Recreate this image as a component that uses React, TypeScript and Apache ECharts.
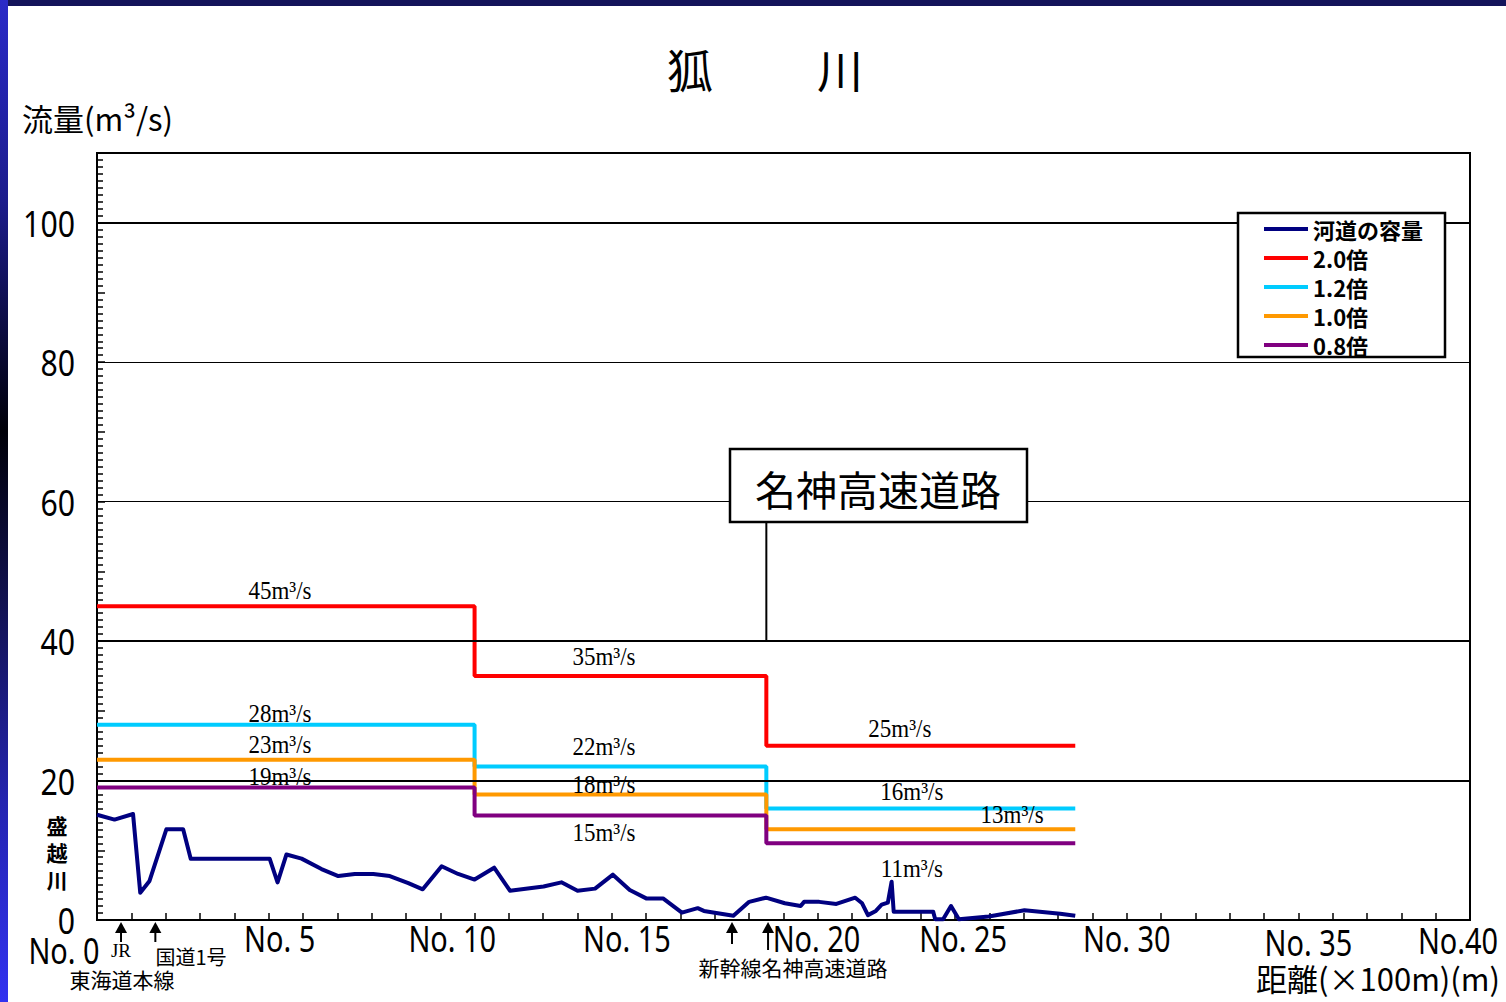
import React, { useEffect, useRef } from 'react';
import * as echarts from 'echarts';

// ---------- texts ----------
const TITLE_CHARS = ['狐', '川'];
const Y_NAME = '流量(m³/s)';
const X_NAME = '距離(×100m)(m)';
const SIDE_NOTE = ['盛', '越', '川'];
const BOX_TEXT = '名神高速道路';
const X_TICK_VALUES = [0, 5, 10, 15, 20, 25, 30, 35, 40];
const X_TICK_LABELS = ['No. 0', 'No. 5', 'No. 10', 'No. 15', 'No. 20', 'No. 25', 'No. 30', 'No. 35', 'No.40'];
const Y_TICK_VALUES = [0, 20, 40, 60, 80, 100];

// ---------- series ----------
const SERIES_NAMES = ['河道の容量', '2.0倍', '1.2倍', '1.0倍', '0.8倍'];
const SERIES_COLORS = ['#000080', '#ff0000', '#00ccff', '#ff9900', '#800080'];

// section boundaries (×100m)
const STEP_X = [0, 11, 19.5, 28.5];
const Q_20 = [45, 35, 25];
const Q_12 = [28, 22, 16];
const Q_10 = [23, 18, 13];
const Q_08 = [19, 15, 11];
const STEP_VALUES = [Q_20, Q_12, Q_10, Q_08];

// river channel capacity
const CAP_X = [0, 0.51, 1.05, 1.26, 1.53, 2.02, 2.51, 2.73, 5.03, 5.26, 5.52, 5.96, 6.54, 7.03, 7.51, 8.05, 8.53, 9.07, 9.49, 10.04, 10.52, 11.0, 11.57, 12.03, 13.01, 13.53, 14.0, 14.51, 15.03, 15.52, 16.0, 16.49, 17.04, 17.5, 17.68, 18.54, 19.0, 19.49, 20.04, 20.5, 20.6, 21.04, 21.54, 22.09, 22.29, 22.46, 22.69, 22.86, 23.04, 23.15, 23.21, 24.36, 24.42, 24.65, 24.88, 25.11, 25.98, 27.02, 28.06, 28.5];
const CAP_Q = [15.1, 14.4, 15.2, 3.9, 5.6, 13.0, 13.0, 8.8, 8.8, 5.4, 9.4, 8.8, 7.3, 6.3, 6.6, 6.6, 6.3, 5.3, 4.4, 7.7, 6.6, 5.8, 7.5, 4.2, 4.8, 5.4, 4.2, 4.5, 6.5, 4.3, 3.1, 3.1, 1.05, 1.7, 1.3, 0.6, 2.6, 3.2, 2.4, 2.0, 2.6, 2.6, 2.3, 3.2, 2.4, 0.7, 1.3, 2.2, 2.5, 5.5, 1.2, 1.2, 0.1, 0.1, 2.0, 0.1, 0.5, 1.4, 0.9, 0.6];

// landmarks along the river (×100m)
const LANDMARK_X = [0.7, 1.7, 18.5, 19.55];
const EXPRESSWAY_X = 19.5;
const EXPRESSWAY_LINE_TOP = 40;

// ---------- layout (styles, not data) ----------
const LABEL_X = [
  [5.33, 14.77, 23.39],
  [5.33, 14.77, 23.74],
  [5.33, 14.77, 26.66],
  [5.33, 14.77, 23.74],
];
const LABEL_DY = [
  [-16, -19, -17],
  [-11, -20, -17],
  [-15, -10, -15],
  [-11, 17, 25],
];
// pixel shift [dx, centerY] of each x tick label
const X_LABEL_SHIFT = [[-33, 950], [11, 938], [12, 938], [15, 938], [33, 938], [8, 938], [0, 938], [10, 942], [-12, 940]];

const CJK = "'Noto Sans CJK JP', 'Noto Sans', sans-serif";
const NUM = "'Noto Sans', 'Noto Sans CJK JP', sans-serif";
const SERIF = "'Liberation Serif', 'DejaVu Serif', serif";

function stepData(values: number[]) {
  const out: number[][] = [];
  values.forEach((v, i) => {
    out.push([STEP_X[i], v]);
    out.push([STEP_X[i + 1], v]);
  });
  return out;
}

export default function App() {
  const ref = useRef<HTMLDivElement>(null);

  useEffect(() => {
    document.body.style.margin = '0';
    if (!ref.current) return;
    const chart = echarts.init(ref.current, null, { renderer: 'svg' });

    const gridLines = Y_TICK_VALUES.filter((v) => v > 0).map((v) => ({
      yAxis: v,
      lineStyle: { color: '#000', width: v === 60 || v === 80 ? 1.2 : 2.2, type: 'solid' },
    }));

    const series: any[] = [
      {
        name: '__grid', type: 'line', data: [], silent: true, z: 1,
        markLine: { silent: true, symbol: 'none', label: { show: false }, data: gridLines, animation: false },
      },
      {
        name: SERIES_NAMES[0], type: 'line', showSymbol: false, symbol: 'none', z: 5,
        data: CAP_X.map((x, i) => [x, CAP_Q[i]]),
        lineStyle: { color: SERIES_COLORS[0], width: 4, join: 'round' },
        itemStyle: { color: SERIES_COLORS[0] },
      },
      ...STEP_VALUES.map((vals, i) => ({
        name: SERIES_NAMES[i + 1], type: 'line', showSymbol: false, symbol: 'none', z: 4,
        data: stepData(vals),
        lineStyle: { color: SERIES_COLORS[i + 1], width: 4 },
        itemStyle: { color: SERIES_COLORS[i + 1] },
      })),
    ];

    chart.setOption({
      animation: false,
      backgroundColor: '#ffffff',
      grid: {
        left: 97, right: 36, top: 153, bottom: 82, show: true,
        borderColor: '#000', borderWidth: 2, backgroundColor: 'transparent',
      },
      xAxis: {
        type: 'value', min: 0, max: 40, interval: 1,
        axisLine: { lineStyle: { color: '#000', width: 2 } },
        axisTick: { inside: true, length: 7, lineStyle: { color: '#000', width: 1.5 } },
        splitLine: { show: false },
        axisLabel: { show: false },
      },
      yAxis: {
        type: 'value', min: 0, max: 110, interval: 10,
        axisLine: { lineStyle: { color: '#000', width: 2 } },
        axisTick: { inside: true, length: 8, lineStyle: { color: '#000', width: 1.5 } },
        minorTick: { show: true, splitNumber: 10, length: 6, lineStyle: { color: '#000', width: 1.5 } },
        splitLine: { show: false },
        axisLabel: { show: false },
      },
      legend: {
        data: SERIES_NAMES,
        orient: 'vertical', left: 1238, top: 213,
        backgroundColor: '#ffffff', borderColor: '#000', borderWidth: 2.5,
        padding: [5, 22, 1, 26], itemGap: 7, itemWidth: 44, itemHeight: 4, icon: 'rect',
        textStyle: { fontSize: 22, fontFamily: CJK, fontWeight: 'bold', color: '#000', lineHeight: 22 },
        z: 10,
      },
      series,
    });

    const px = (x: number, y: number) => chart.convertToPixel({ gridIndex: 0 }, [x, y]) as number[];
    const axisY = px(0, 0)[1];
    const graphics: any[] = [];

    // frame decoration
    graphics.push({
      type: 'rect', shape: { x: 0, y: 0, width: 1506, height: 6 }, style: { fill: '#14145a' }, z: 100,
    });
    graphics.push({
      type: 'rect', shape: { x: 0, y: 0, width: 8, height: 1002 }, z: 101,
      style: {
        fill: new echarts.graphic.LinearGradient(0, 0, 0, 1, [
          { offset: 0, color: '#2a2ac8' },
          { offset: 0.2, color: '#1c1c8c' },
          { offset: 0.33, color: '#0c0c40' },
          { offset: 0.43, color: '#000008' },
          { offset: 0.6, color: '#121250' },
          { offset: 0.8, color: '#2424b0' },
          { offset: 1, color: '#3232f0' },
        ]),
      },
    });

    // y tick labels (condensed)
    Y_TICK_VALUES.forEach((v) => {
      const p = px(0, v);
      graphics.push({
        type: 'text', x: 75, y: p[1], scaleX: 0.84,
        style: { text: String(v), fontSize: 36, fontFamily: NUM, fill: '#000', align: 'right', verticalAlign: 'middle' },
      });
    });
    // x tick labels (condensed)
    X_TICK_VALUES.forEach((v, i) => {
      const p = px(v, 0);
      graphics.push({
        type: 'text', x: p[0] + X_LABEL_SHIFT[i][0], y: X_LABEL_SHIFT[i][1], scaleX: 0.78,
        style: { text: X_TICK_LABELS[i], fontSize: 37, fontFamily: NUM, fill: '#000', align: 'center', verticalAlign: 'middle' },
      });
    });

    // title
    graphics.push({ type: 'text', x: 690, y: 68, style: { text: TITLE_CHARS[0], fontSize: 46, fontFamily: CJK, fill: '#000', align: 'center', verticalAlign: 'middle' } });
    graphics.push({ type: 'text', x: 840, y: 68, style: { text: TITLE_CHARS[1], fontSize: 46, fontFamily: CJK, fill: '#000', align: 'center', verticalAlign: 'middle' } });

    // axis names
    graphics.push({ type: 'text', x: 22, y: 117, style: { text: Y_NAME, fontSize: 31, fontFamily: CJK, fill: '#000', align: 'left', verticalAlign: 'middle' } });
    graphics.push({ type: 'text', x: 1500, y: 977, style: { text: X_NAME, fontSize: 31, fontFamily: CJK, fill: '#000', align: 'right', verticalAlign: 'middle' } });
    SIDE_NOTE.forEach((ch, i) => {
      graphics.push({ type: 'text', x: 57, y: 825 + i * 27, style: { text: ch, fontSize: 21, fontWeight: 'bold', fontFamily: CJK, fill: '#000', align: 'center', verticalAlign: 'middle' } });
    });

    // value labels of each section
    STEP_VALUES.forEach((vals, s) => {
      vals.forEach((v, k) => {
        const p = px(LABEL_X[s][k], v);
        graphics.push({
          type: 'text', x: p[0], y: p[1] + LABEL_DY[s][k], z: 20, scaleX: 0.92,
          style: { text: `${v}m³/s`, fontSize: 25, fontFamily: SERIF, fill: '#000', align: 'center', verticalAlign: 'middle' },
        });
      });
    });

    // expressway callout
    const ew = px(EXPRESSWAY_X, EXPRESSWAY_LINE_TOP);
    graphics.push({ type: 'line', shape: { x1: ew[0], y1: 522, x2: ew[0], y2: ew[1] }, style: { stroke: '#000', lineWidth: 2 }, z: 20 });
    graphics.push({ type: 'rect', shape: { x: 730, y: 449, width: 297, height: 73 }, style: { fill: '#fff', stroke: '#000', lineWidth: 2.5 }, z: 20 });
    graphics.push({ type: 'text', x: 878, y: 488, z: 21, style: { text: BOX_TEXT, fontSize: 41, fontFamily: CJK, fill: '#000', align: 'center', verticalAlign: 'middle' } });

    // landmark arrows
    const tails = [942, 942, 944, 950];
    LANDMARK_X.forEach((lx, i) => {
      const x = px(lx, 0)[0];
      graphics.push({ type: 'polygon', shape: { points: [[x, axisY + 2], [x - 6, axisY + 13], [x + 6, axisY + 13]] }, style: { fill: '#000' }, z: 20 });
      graphics.push({ type: 'line', shape: { x1: x, y1: axisY + 10, x2: x, y2: tails[i] }, style: { stroke: '#000', lineWidth: 2 }, z: 20 });
    });
    const noteStyle = { fontSize: 20, fontFamily: CJK, fill: '#000', align: 'center', verticalAlign: 'middle' };
    graphics.push({ type: 'text', x: 121, y: 950, style: { ...noteStyle, text: 'JR', fontFamily: SERIF, fontSize: 19 } });
    graphics.push({ type: 'text', x: 122, y: 979, style: { ...noteStyle, text: '東海道本線', fontSize: 21 } });
    graphics.push({ type: 'text', x: 191, y: 956, style: { ...noteStyle, text: '国道1号' } });
    graphics.push({ type: 'text', x: 793, y: 967, style: { ...noteStyle, text: '新幹線名神高速道路', fontSize: 21 } });

    chart.setOption({ graphic: graphics });

    return () => chart.dispose();
  }, []);

  return <div ref={ref} style={{ width: 1506, height: 1002 }} />;
}
